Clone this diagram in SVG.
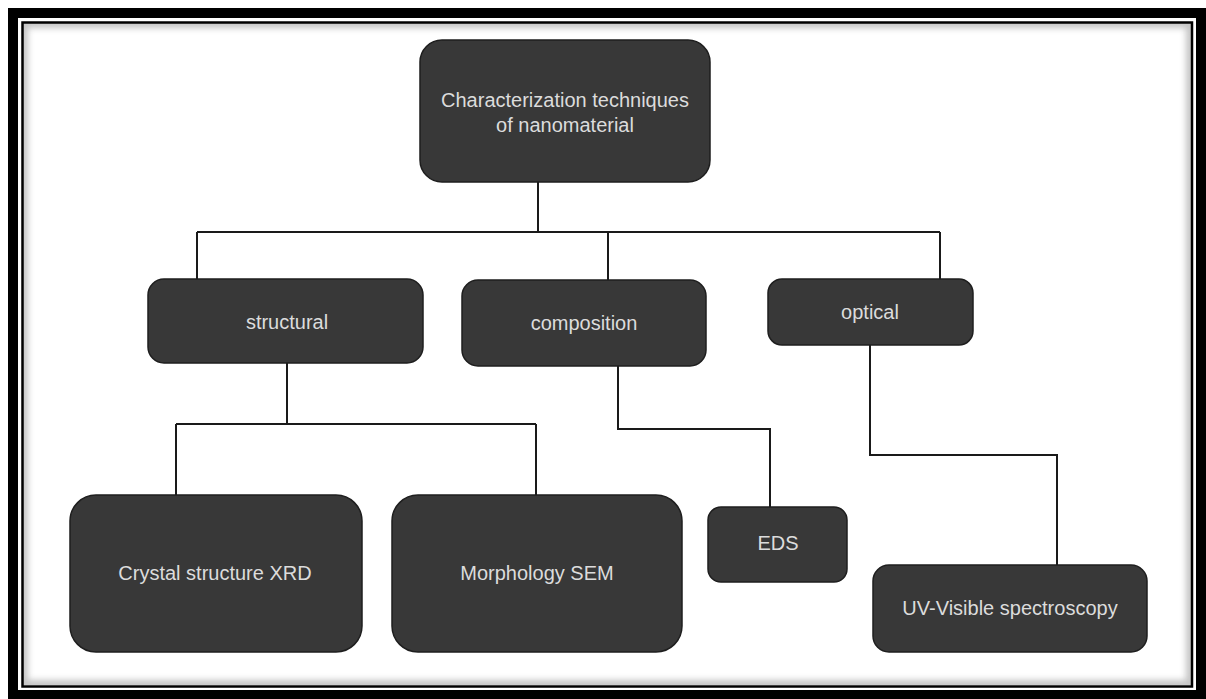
<svg xmlns="http://www.w3.org/2000/svg" width="1206" height="699" viewBox="0 0 1206 699">
  <defs>
    <filter id="blur" x="-5%" y="-5%" width="110%" height="110%">
      <feGaussianBlur stdDeviation="3"/>
    </filter>
    <clipPath id="inner">
      <rect x="23" y="23" width="1168" height="662"/>
    </clipPath>
  </defs>
  <style>
    .node rect { fill: #383838; stroke: #1e1e1e; stroke-width: 1.5; }
    .node text { fill: #dcdcdc; font-family: "Liberation Sans", Arial, sans-serif; font-size: 20px; text-anchor: middle; }
    #connectors path { fill: none; stroke: #1a1a1a; stroke-width: 2; }
  </style>
  <rect x="0" y="0" width="1206" height="699" fill="#ffffff"/>
  <g id="frame">
    <rect x="13" y="13" width="1188" height="682" fill="none" stroke="#000" stroke-width="10"/>
    <g clip-path="url(#inner)">
      <rect x="23" y="23" width="1168" height="662" fill="none" stroke="#c4c4c4" stroke-width="10" filter="url(#blur)"/>
    </g>
    <rect x="22.5" y="22.5" width="1169.5" height="664" fill="none" stroke="#000" stroke-width="2.5"/>
  </g>
  <g id="connectors">
    <path d="M538 182 V232 M197 232 H940 M197 232 V279 M608 232 V280 M940 232 V279"/>
    <path d="M287 363 V424 M176 424 H536 M176 424 V495 M536 424 V495"/>
    <path d="M618 366 V429 H770 V507"/>
    <path d="M870 345 V455 H1057 V565"/>
  </g>
  <g id="root" class="node">
    <rect x="420" y="40" width="290" height="142" rx="22"/>
    <text x="565" y="107">Characterization techniques</text>
    <text x="565" y="132">of nanomaterial</text>
  </g>
  <g id="structural" class="node">
    <rect x="148" y="279" width="275" height="84" rx="16"/>
    <text x="287" y="329">structural</text>
  </g>
  <g id="composition" class="node">
    <rect x="462" y="280" width="244" height="86" rx="16"/>
    <text x="584" y="330">composition</text>
  </g>
  <g id="optical" class="node">
    <rect x="768" y="279" width="205" height="66" rx="14"/>
    <text x="870" y="319">optical</text>
  </g>
  <g id="xrd" class="node">
    <rect x="70" y="495" width="292" height="157" rx="26"/>
    <text x="215" y="580">Crystal structure XRD</text>
  </g>
  <g id="sem" class="node">
    <rect x="392" y="495" width="290" height="157" rx="26"/>
    <text x="537" y="580">Morphology SEM</text>
  </g>
  <g id="eds" class="node">
    <rect x="708" y="507" width="139" height="75" rx="13"/>
    <text x="778" y="550">EDS</text>
  </g>
  <g id="uv" class="node">
    <rect x="873" y="565" width="274" height="87" rx="16"/>
    <text x="1010" y="615">UV-Visible spectroscopy</text>
  </g>
</svg>
